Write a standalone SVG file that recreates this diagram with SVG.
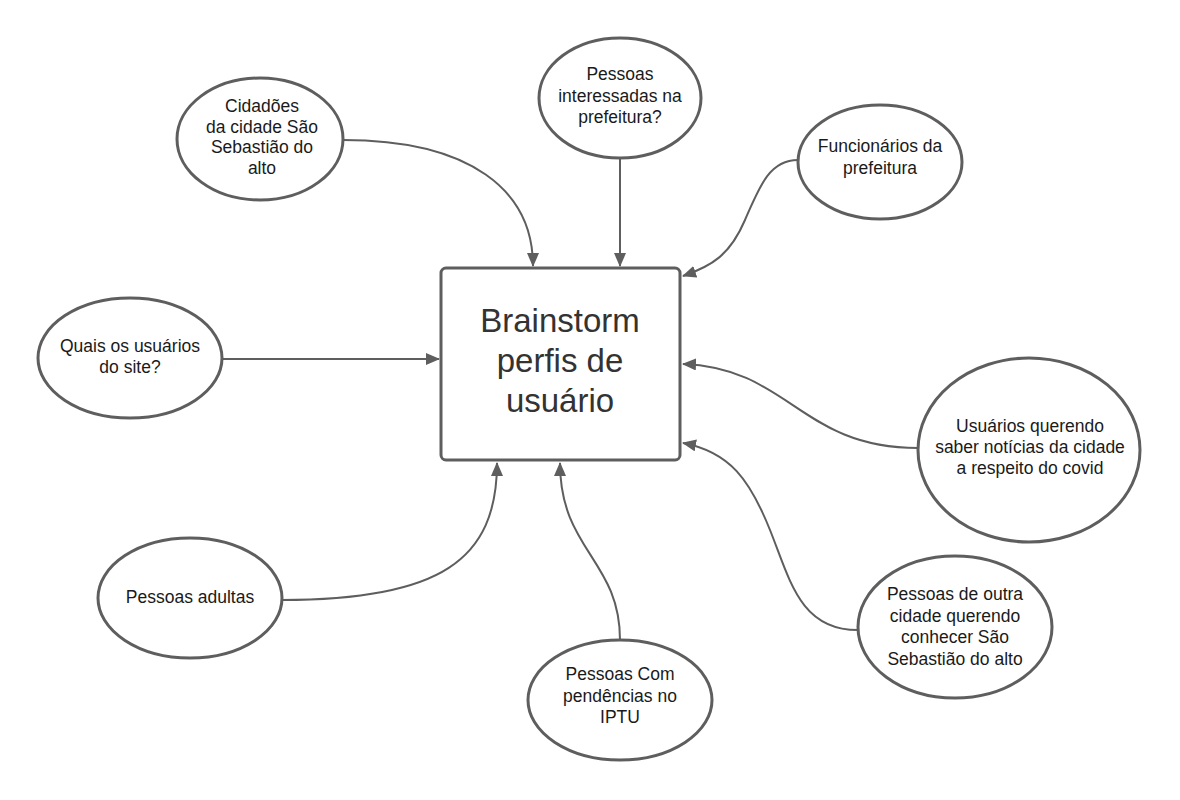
<svg xmlns="http://www.w3.org/2000/svg" width="1180" height="800" viewBox="0 0 1180 800">
<defs>
<style>
.node ellipse{fill:#ffffff;stroke:#5e5e5e;stroke-width:3}
.lbl{font-family:"Liberation Sans",Arial,sans-serif;font-size:17.5px;fill:#1a1a1a;text-anchor:middle}
.big{font-family:"Liberation Sans",Arial,sans-serif;font-size:33px;fill:#333333;text-anchor:middle}
.conn path{fill:none;stroke:#5e5e5e;stroke-width:2}
</style>
<marker id="arr" markerUnits="userSpaceOnUse" markerWidth="14" markerHeight="12" refX="13" refY="6" orient="auto">
<path d="M0,0 L14,6 L0,12 z" fill="#5e5e5e"/>
</marker>
</defs>
<rect width="1180" height="800" fill="#ffffff"/>
<g id="connectors" class="conn">
<path d="M343,140 C470,140 533,190 533,266" marker-end="url(#arr)"/>
<path d="M620,158 L620,266" marker-end="url(#arr)"/>
<path d="M798,160 C770,160 760,185 745,220 C730,255 712,266 683,276" marker-end="url(#arr)"/>
<path d="M223,359 L439,359" marker-end="url(#arr)"/>
<path d="M918,448 C800,448 790,368 683,364" marker-end="url(#arr)"/>
<path d="M858,630 C800,630 790,580 770,530 C750,480 730,452 683,443" marker-end="url(#arr)"/>
<path d="M620,640 C620,560 560,550 560,463" marker-end="url(#arr)"/>
<path d="M282,600 C440,600 497,560 497,463" marker-end="url(#arr)"/>
</g>
<g id="center">
<rect x="441" y="268" width="239" height="192" rx="5" fill="#ffffff" stroke="#5e5e5e" stroke-width="3"/>
<text class="big" x="560" y="332">Brainstorm</text>
<text class="big" x="560" y="372">perfis de</text>
<text class="big" x="560" y="412">usuário</text>
</g>
<g id="n-cidadoes" class="node">
<ellipse cx="260" cy="139" rx="83" ry="61"/>
<text class="lbl" x="262" y="112">Cidadões</text>
<text class="lbl" x="262" y="133">da cidade São</text>
<text class="lbl" x="262" y="153">Sebastião do</text>
<text class="lbl" x="262" y="174">alto</text>
</g>
<g id="n-interessadas" class="node">
<ellipse cx="620" cy="98" rx="81" ry="60"/>
<text class="lbl" x="620" y="80">Pessoas</text>
<text class="lbl" x="620" y="102">interessadas na</text>
<text class="lbl" x="620" y="123">prefeitura?</text>
</g>
<g id="n-funcionarios" class="node">
<ellipse cx="880" cy="162" rx="82" ry="57"/>
<text class="lbl" x="880" y="152">Funcionários da</text>
<text class="lbl" x="880" y="174">prefeitura</text>
</g>
<g id="n-quais" class="node">
<ellipse cx="130" cy="358" rx="92" ry="60"/>
<text class="lbl" x="130" y="352">Quais os usuários</text>
<text class="lbl" x="130" y="373">do site?</text>
</g>
<g id="n-covid" class="node">
<ellipse cx="1029" cy="450" rx="111" ry="92"/>
<text class="lbl" x="1030" y="432">Usuários querendo</text>
<text class="lbl" x="1030" y="453">saber notícias da cidade</text>
<text class="lbl" x="1030" y="474">a respeito do covid</text>
</g>
<g id="n-outra" class="node">
<ellipse cx="955" cy="627" rx="97" ry="71"/>
<text class="lbl" x="955" y="600">Pessoas de outra</text>
<text class="lbl" x="955" y="622">cidade querendo</text>
<text class="lbl" x="955" y="643">conhecer São</text>
<text class="lbl" x="955" y="665">Sebastião do alto</text>
</g>
<g id="n-iptu" class="node">
<ellipse cx="620" cy="700" rx="92" ry="60"/>
<text class="lbl" x="620" y="680">Pessoas Com</text>
<text class="lbl" x="620" y="702">pendências no</text>
<text class="lbl" x="620" y="723">IPTU</text>
</g>
<g id="n-adultas" class="node">
<ellipse cx="190" cy="598" rx="92" ry="60"/>
<text class="lbl" x="190" y="603">Pessoas adultas</text>
</g>
</svg>
